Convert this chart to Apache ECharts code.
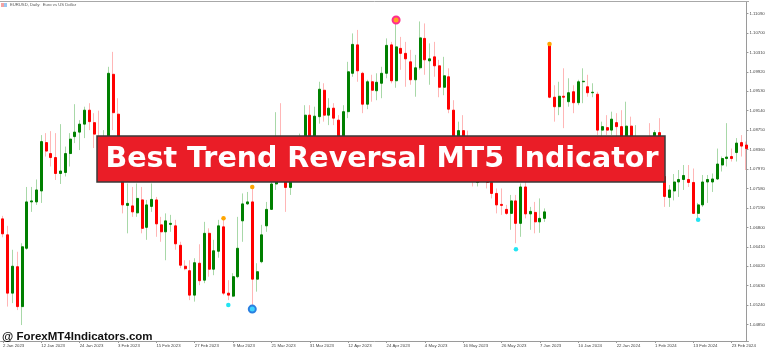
<!DOCTYPE html>
<html>
<head>
<meta charset="utf-8">
<script src="https://cdn.jsdelivr.net/npm/echarts@6/dist/echarts.min.js"></script>
<style>html,body{margin:0;padding:0;background:#fff;}#chart{width:768px;height:351px;}</style>
</head>
<body>
<div id="chart"></div>
<script>
const categories = [
'2 Jan 2023','3 Jan 2023','4 Jan 2023','5 Jan 2023','6 Jan 2023','9 Jan 2023','10 Jan 2023','11 Jan 2023','12 Jan 2023','13 Jan 2023',
'16 Jan 2023','17 Jan 2023','18 Jan 2023','19 Jan 2023','20 Jan 2023','23 Jan 2023','24 Jan 2023','25 Jan 2023','26 Jan 2023','27 Jan 2023',
'30 Jan 2023','31 Jan 2023','1 Feb 2023','2 Feb 2023','3 Feb 2023','6 Feb 2023','7 Feb 2023','8 Feb 2023','9 Feb 2023','10 Feb 2023',
'13 Feb 2023','14 Feb 2023','15 Feb 2023','16 Feb 2023','17 Feb 2023','20 Feb 2023','21 Feb 2023','22 Feb 2023','23 Feb 2023','24 Feb 2023',
'27 Feb 2023','28 Feb 2023','1 Mar 2023','2 Mar 2023','3 Mar 2023','6 Mar 2023','7 Mar 2023','8 Mar 2023','9 Mar 2023','10 Mar 2023',
'13 Mar 2023','14 Mar 2023','15 Mar 2023','16 Mar 2023','17 Mar 2023','20 Mar 2023','21 Mar 2023','22 Mar 2023','23 Mar 2023','24 Mar 2023',
'27 Mar 2023','28 Mar 2023','29 Mar 2023','30 Mar 2023','31 Mar 2023','3 Apr 2023','4 Apr 2023','5 Apr 2023','6 Apr 2023','7 Apr 2023',
'10 Apr 2023','11 Apr 2023','12 Apr 2023','13 Apr 2023','14 Apr 2023','17 Apr 2023','18 Apr 2023','19 Apr 2023','20 Apr 2023','21 Apr 2023',
'24 Apr 2023','25 Apr 2023','26 Apr 2023','27 Apr 2023','28 Apr 2023','1 May 2023','2 May 2023','3 May 2023','4 May 2023','5 May 2023',
'8 May 2023','9 May 2023','10 May 2023','11 May 2023','12 May 2023','15 May 2023','16 May 2023','17 May 2023','18 May 2023','19 May 2023',
'22 May 2023','23 May 2023','24 May 2023','25 May 2023','26 May 2023','29 May 2023','30 May 2023','31 May 2023','1 Jun 2023','2 Jun 2023',
'5 Jun 2023','6 Jun 2023','7 Jun 2023','8 Jun 2023',
'2 Jan 2024','3 Jan 2024','4 Jan 2024','5 Jan 2024','8 Jan 2024','9 Jan 2024',
'10 Jan 2024','11 Jan 2024','12 Jan 2024','15 Jan 2024','16 Jan 2024','17 Jan 2024','18 Jan 2024','19 Jan 2024','22 Jan 2024','23 Jan 2024',
'24 Jan 2024','25 Jan 2024','26 Jan 2024','29 Jan 2024','30 Jan 2024','31 Jan 2024','1 Feb 2024','2 Feb 2024','5 Feb 2024','6 Feb 2024',
'7 Feb 2024','8 Feb 2024','9 Feb 2024','12 Feb 2024','13 Feb 2024','14 Feb 2024','15 Feb 2024','16 Feb 2024','19 Feb 2024','20 Feb 2024',
'21 Feb 2024','22 Feb 2024','23 Feb 2024','26 Feb 2024','27 Feb 2024','28 Feb 2024'
];

const openPrices = [
1.0697,1.0665,1.0548,1.0601,1.0521,1.0638,1.0731,1.0731,1.0753,1.0850,
1.0828,1.0820,1.0788,1.0790,1.0828,1.0862,1.0871,1.0887,1.0915,1.0890,
1.0862,1.0850,1.0858,1.0987,1.0907,1.0795,1.0724,1.0723,1.0709,1.0735,
1.0680,1.0722,1.0735,1.0685,1.0671,1.0686,1.0683,1.0644,1.0602,1.0593,
1.0544,1.0608,1.0574,1.0668,1.0596,1.0632,1.0681,1.0548,1.0542,1.0581,
1.0693,1.0727,1.0731,1.0576,1.0611,1.0683,1.0716,1.0767,1.0855,1.0830,
1.0760,1.0800,1.0842,1.0846,1.0905,1.0832,1.0902,1.0955,1.0905,1.0919,
1.0895,1.0860,1.0912,1.0989,1.1046,1.0989,1.0927,1.0972,1.0954,1.0969,
1.0989,1.1046,1.0974,1.1039,1.1029,1.1012,1.0976,1.1000,1.1059,1.1014,
1.1022,1.1004,1.0961,1.0982,1.0915,1.0850,1.0874,1.0862,1.0840,1.0770,
1.0805,1.0812,1.0770,1.0748,1.0726,1.0716,1.0708,1.0733,1.0688,1.0761,
1.0707,1.0710,1.0691,1.0698,1.1047,1.0941,1.0922,1.0943,1.0932,1.0952,
1.0930,1.0972,1.0962,1.0950,1.0947,1.0875,1.0880,1.0875,1.0890,1.0882,
1.0855,1.0883,1.0845,1.0850,1.0830,1.0845,1.0818,1.0870,1.0782,1.0740,
1.0753,1.0771,1.0776,1.0776,1.0770,1.0708,1.0725,1.0771,1.0771,1.0777,
1.0805,1.0818,1.0822,1.0830,1.0850,1.0845
];
const closePrices = [
1.0667,1.0548,1.0602,1.0521,1.0641,1.0731,1.0733,1.0755,1.0852,1.0833,
1.0820,1.0788,1.0793,1.0828,1.0857,1.0871,1.0887,1.0915,1.0892,1.0867,
1.0850,1.0860,1.0989,1.0910,1.0795,1.0725,1.0728,1.0711,1.0738,1.0678,
1.0725,1.0736,1.0687,1.0671,1.0693,1.0688,1.0647,1.0604,1.0597,1.0544,
1.0609,1.0573,1.0668,1.0596,1.0633,1.0683,1.0548,1.0544,1.0581,1.0638,
1.0727,1.0731,1.0576,1.0591,1.0665,1.0716,1.0767,1.0855,1.0832,1.0760,
1.0800,1.0842,1.0846,1.0905,1.0839,1.0903,1.0957,1.0905,1.0919,1.0899,
1.0860,1.0912,1.0992,1.1047,1.0994,1.0927,1.0972,1.0955,1.0971,1.0989,
1.1045,1.0974,1.1042,1.1029,1.1018,1.0976,1.1000,1.1060,1.1016,1.1018,
1.1004,1.0961,1.0984,1.0917,1.0850,1.0874,1.0862,1.0840,1.0772,1.0805,
1.0812,1.0770,1.0748,1.0725,1.0724,1.0708,1.0733,1.0688,1.0761,1.0707,
1.0712,1.0691,1.0698,1.0711,1.0941,1.0922,1.0943,1.0941,1.0950,1.0930,
1.0972,1.0973,1.0950,1.0951,1.0875,1.0882,1.0875,1.0897,1.0882,1.0855,
1.0883,1.0845,1.0855,1.0830,1.0845,1.0818,1.0870,1.0788,1.0742,1.0755,
1.0771,1.0776,1.0784,1.0770,1.0708,1.0725,1.0771,1.0776,1.0777,1.0807,
1.0818,1.0821,1.0818,1.0849,1.0843,1.0838
];
const lowPrices = [
1.0660,1.0521,1.0528,1.0514,1.0484,1.0635,1.0711,1.0725,1.0729,1.0822,
1.0802,1.0775,1.0767,1.0782,1.0802,1.0849,1.0835,1.0859,1.0875,1.0839,
1.0842,1.0805,1.0830,1.0875,1.0790,1.0708,1.0668,1.0701,1.0701,1.0668,
1.0655,1.0711,1.0661,1.0651,1.0614,1.0671,1.0635,1.0598,1.0594,1.0534,
1.0531,1.0564,1.0568,1.0581,1.0584,1.0619,1.0544,1.0534,1.0540,1.0578,
1.0651,1.0725,1.0517,1.0551,1.0608,1.0671,1.0715,1.0755,1.0830,1.0711,
1.0745,1.0785,1.0815,1.0837,1.0833,1.0790,1.0888,1.0892,1.0885,1.0885,
1.0835,1.0838,1.0899,1.0982,1.0972,1.0909,1.0917,1.0932,1.0935,1.0939,
1.0979,1.0969,1.0960,1.0996,1.0962,1.0966,1.0942,1.0996,1.0986,1.0966,
1.0982,1.0941,1.0945,1.0909,1.0845,1.0846,1.0855,1.0810,1.0762,1.0762,
1.0796,1.0758,1.0738,1.0708,1.0705,1.0705,1.0675,1.0648,1.0661,1.0698,
1.0675,1.0668,1.0669,1.0691,1.0939,1.0892,1.0905,1.0879,1.0922,1.0909,
1.0925,1.0929,1.0942,1.0941,1.0865,1.0845,1.0865,1.0865,1.0862,1.0822,
1.0845,1.0820,1.0815,1.0794,1.0805,1.0795,1.0795,1.0781,1.0721,1.0721,
1.0734,1.0741,1.0755,1.0761,1.0707,1.0698,1.0721,1.0729,1.0751,1.0775,
1.0792,1.0802,1.0812,1.0812,1.0822,1.0795
];
const highPrices = [
1.0703,1.0683,1.0635,1.0631,1.0648,1.0761,1.0761,1.0776,1.0865,1.0869,
1.0873,1.0869,1.0887,1.0842,1.0869,1.0927,1.0895,1.0922,1.0929,1.0909,
1.0914,1.0875,1.1002,1.1032,1.0939,1.0800,1.0768,1.0761,1.0768,1.0761,
1.0735,1.0768,1.0741,1.0701,1.0708,1.0705,1.0695,1.0651,1.0614,1.0614,
1.0618,1.0646,1.0691,1.0678,1.0655,1.0695,1.0696,1.0574,1.0588,1.0701,
1.0748,1.0751,1.0761,1.0608,1.0685,1.0731,1.0788,1.0911,1.0929,1.0840,
1.0830,1.0845,1.0868,1.0925,1.0925,1.0922,1.0972,1.0969,1.0939,1.0929,
1.0905,1.0925,1.1012,1.1069,1.1076,1.0992,1.0976,1.0986,1.0989,1.1002,
1.1059,1.1052,1.1096,1.1062,1.1052,1.1036,1.1026,1.1093,1.1089,1.1049,
1.1052,1.1016,1.1022,1.0999,1.0935,1.0892,1.0905,1.0874,1.0846,1.0830,
1.0827,1.0828,1.0790,1.0758,1.0758,1.0725,1.0745,1.0745,1.0768,1.0772,
1.0721,1.0731,1.0738,1.0718,1.1049,1.0965,1.0972,1.0999,1.0979,1.0965,
1.0976,1.0999,1.0986,1.0969,1.0952,1.0892,1.0905,1.0912,1.0909,1.0915,
1.0932,1.0902,1.0885,1.0855,1.0855,1.0889,1.0875,1.0899,1.0785,1.0765,
1.0787,1.0795,1.0805,1.0805,1.0798,1.0729,1.0785,1.0785,1.0788,1.0838,
1.0822,1.0889,1.0838,1.0859,1.0865,1.0852
];

const yTickLabels = [1.04850,1.05240,1.05630,1.06020,1.06410,1.06800,1.07190,1.07580,1.07970,
  1.08360,1.08750,1.09140,1.09530,1.09920,1.10310,1.10700,1.11090];

const sellSignals = [[46, 1.0698], [52, 1.0761], [114, 1.1048]];
const buySignals = [[47, 1.0524], [107, 1.0636], [145, 1.0695]];
const topReversal = [[82, 1.1096]];
const bottomReversal = [[52, 1.0516]];

const headerText = 'EURUSD, Daily:  Euro vs US Dollar';
const bannerText = 'Best Trend Reversal MT5 Indicator';
const watermarkText = '@ ForexMT4Indicators.com';

const wickData = openPrices.map((o, i) => [o, closePrices[i], lowPrices[i], highPrices[i]]);
const bodyData = openPrices.map((o, i) => {
  const c = closePrices[i];
  return [o, c, Math.min(o, c), Math.max(o, c)];
});

const chart = echarts.init(document.getElementById('chart'), null, {renderer: 'canvas'});
chart.setOption({
  animation: false,
  backgroundColor: '#ffffff',
  grid: {left: -4.1, right: 17.1, top: 2, bottom: 10},
  xAxis: {
    type: 'category',
    data: categories,
    boundaryGap: true,
    axisLine: {show: true, lineStyle: {color: '#9a9a9a', width: 1}},
    axisTick: {show: true, interval: 7, alignWithLabel: true, length: 2, lineStyle: {color: '#9a9a9a'}},
    axisLabel: {interval: 7, fontSize: 4.3, color: '#444', align: 'left', margin: 3, fontFamily: 'Liberation Sans'},
    splitLine: {show: false}
  },
  yAxis: {
    type: 'value',
    position: 'right',
    offset: -2,
    min: 1.0452,
    max: 1.1132,
    scale: true,
    splitLine: {show: false},
    axisLine: {show: true, lineStyle: {color: '#9a9a9a', width: 1}},
    axisTick: {show: true, length: 2, customValues: yTickLabels, lineStyle: {color: '#9a9a9a'}},
    axisLabel: {
      customValues: yTickLabels,
      formatter: v => v.toFixed(5),
      fontSize: 4.3, color: '#444', margin: 3, fontFamily: 'Liberation Sans'
    }
  },
  series: [
    {
      type: 'candlestick',
      data: wickData,
      barWidth: 1,
      silent: true,
      itemStyle: {
        color: 'rgba(0,0,0,0)', color0: 'rgba(0,0,0,0)',
        borderColor: '#a8d8a8', borderColor0: '#ffb6b6', borderWidth: 1
      }
    },
    {
      type: 'candlestick',
      data: bodyData,
      barWidth: 2.5,
      silent: true,
      itemStyle: {
        color: '#008000', color0: '#ff0000',
        borderColor: '#008000', borderColor0: '#ff0000', borderWidth: 1
      }
    },
    {
      type: 'scatter', data: sellSignals, symbol: 'circle', symbolSize: 4.5, silent: true, z: 5,
      itemStyle: {color: '#ffa500', opacity: 1}
    },
    {
      type: 'scatter', data: buySignals, symbol: 'circle', symbolSize: 4.5, silent: true, z: 5,
      itemStyle: {color: '#22e4f2', opacity: 1}
    },
    {
      type: 'scatter', data: topReversal, symbol: 'circle', symbolSize: 7, silent: true, z: 6,
      itemStyle: {color: '#ffa020', borderColor: '#ff2d8f', borderWidth: 2, opacity: 1}
    },
    {
      type: 'scatter', data: bottomReversal, symbol: 'circle', symbolSize: 7, silent: true, z: 6,
      itemStyle: {color: '#3fd4ff', borderColor: '#2a7fe0', borderWidth: 2, opacity: 1}
    }
  ],
  graphic: [
    {type: 'line', z: 50, shape: {x1: 0, y1: 1.5, x2: 749, y2: 1.5}, style: {stroke: '#a8a8a8', lineWidth: 1}},
    {type: 'rect', z: 50, shape: {x: 1, y: 3, width: 3, height: 4}, style: {fill: '#f5a3a3'}},
    {type: 'rect', z: 50, shape: {x: 4, y: 3, width: 3, height: 4}, style: {fill: '#9cc6f0'}},
    {type: 'text', z: 50, x: 10, y: 5, style: {text: headerText, fill: '#555', fontSize: 4.2, fontFamily: 'Liberation Sans', align: 'left', verticalAlign: 'middle'}},
    {type: 'rect', z: 100, shape: {x: 97, y: 136, width: 568, height: 46}, style: {fill: '#ea1d27', stroke: '#3a3a3a', lineWidth: 1.5}},
    {type: 'text', z: 101, x: 382, y: 160, style: {text: bannerText, fill: '#ffffff', fontSize: 28.5, fontWeight: 'bold', fontFamily: 'DejaVu Sans', align: 'center', verticalAlign: 'middle'}},
    {type: 'text', z: 100, x: 2, y: 337, style: {text: watermarkText, fill: '#111', fontSize: 11.5, fontWeight: 'bold', fontFamily: 'Liberation Sans', align: 'left', verticalAlign: 'middle'}}
  ]
});
</script>
</body>
</html>
